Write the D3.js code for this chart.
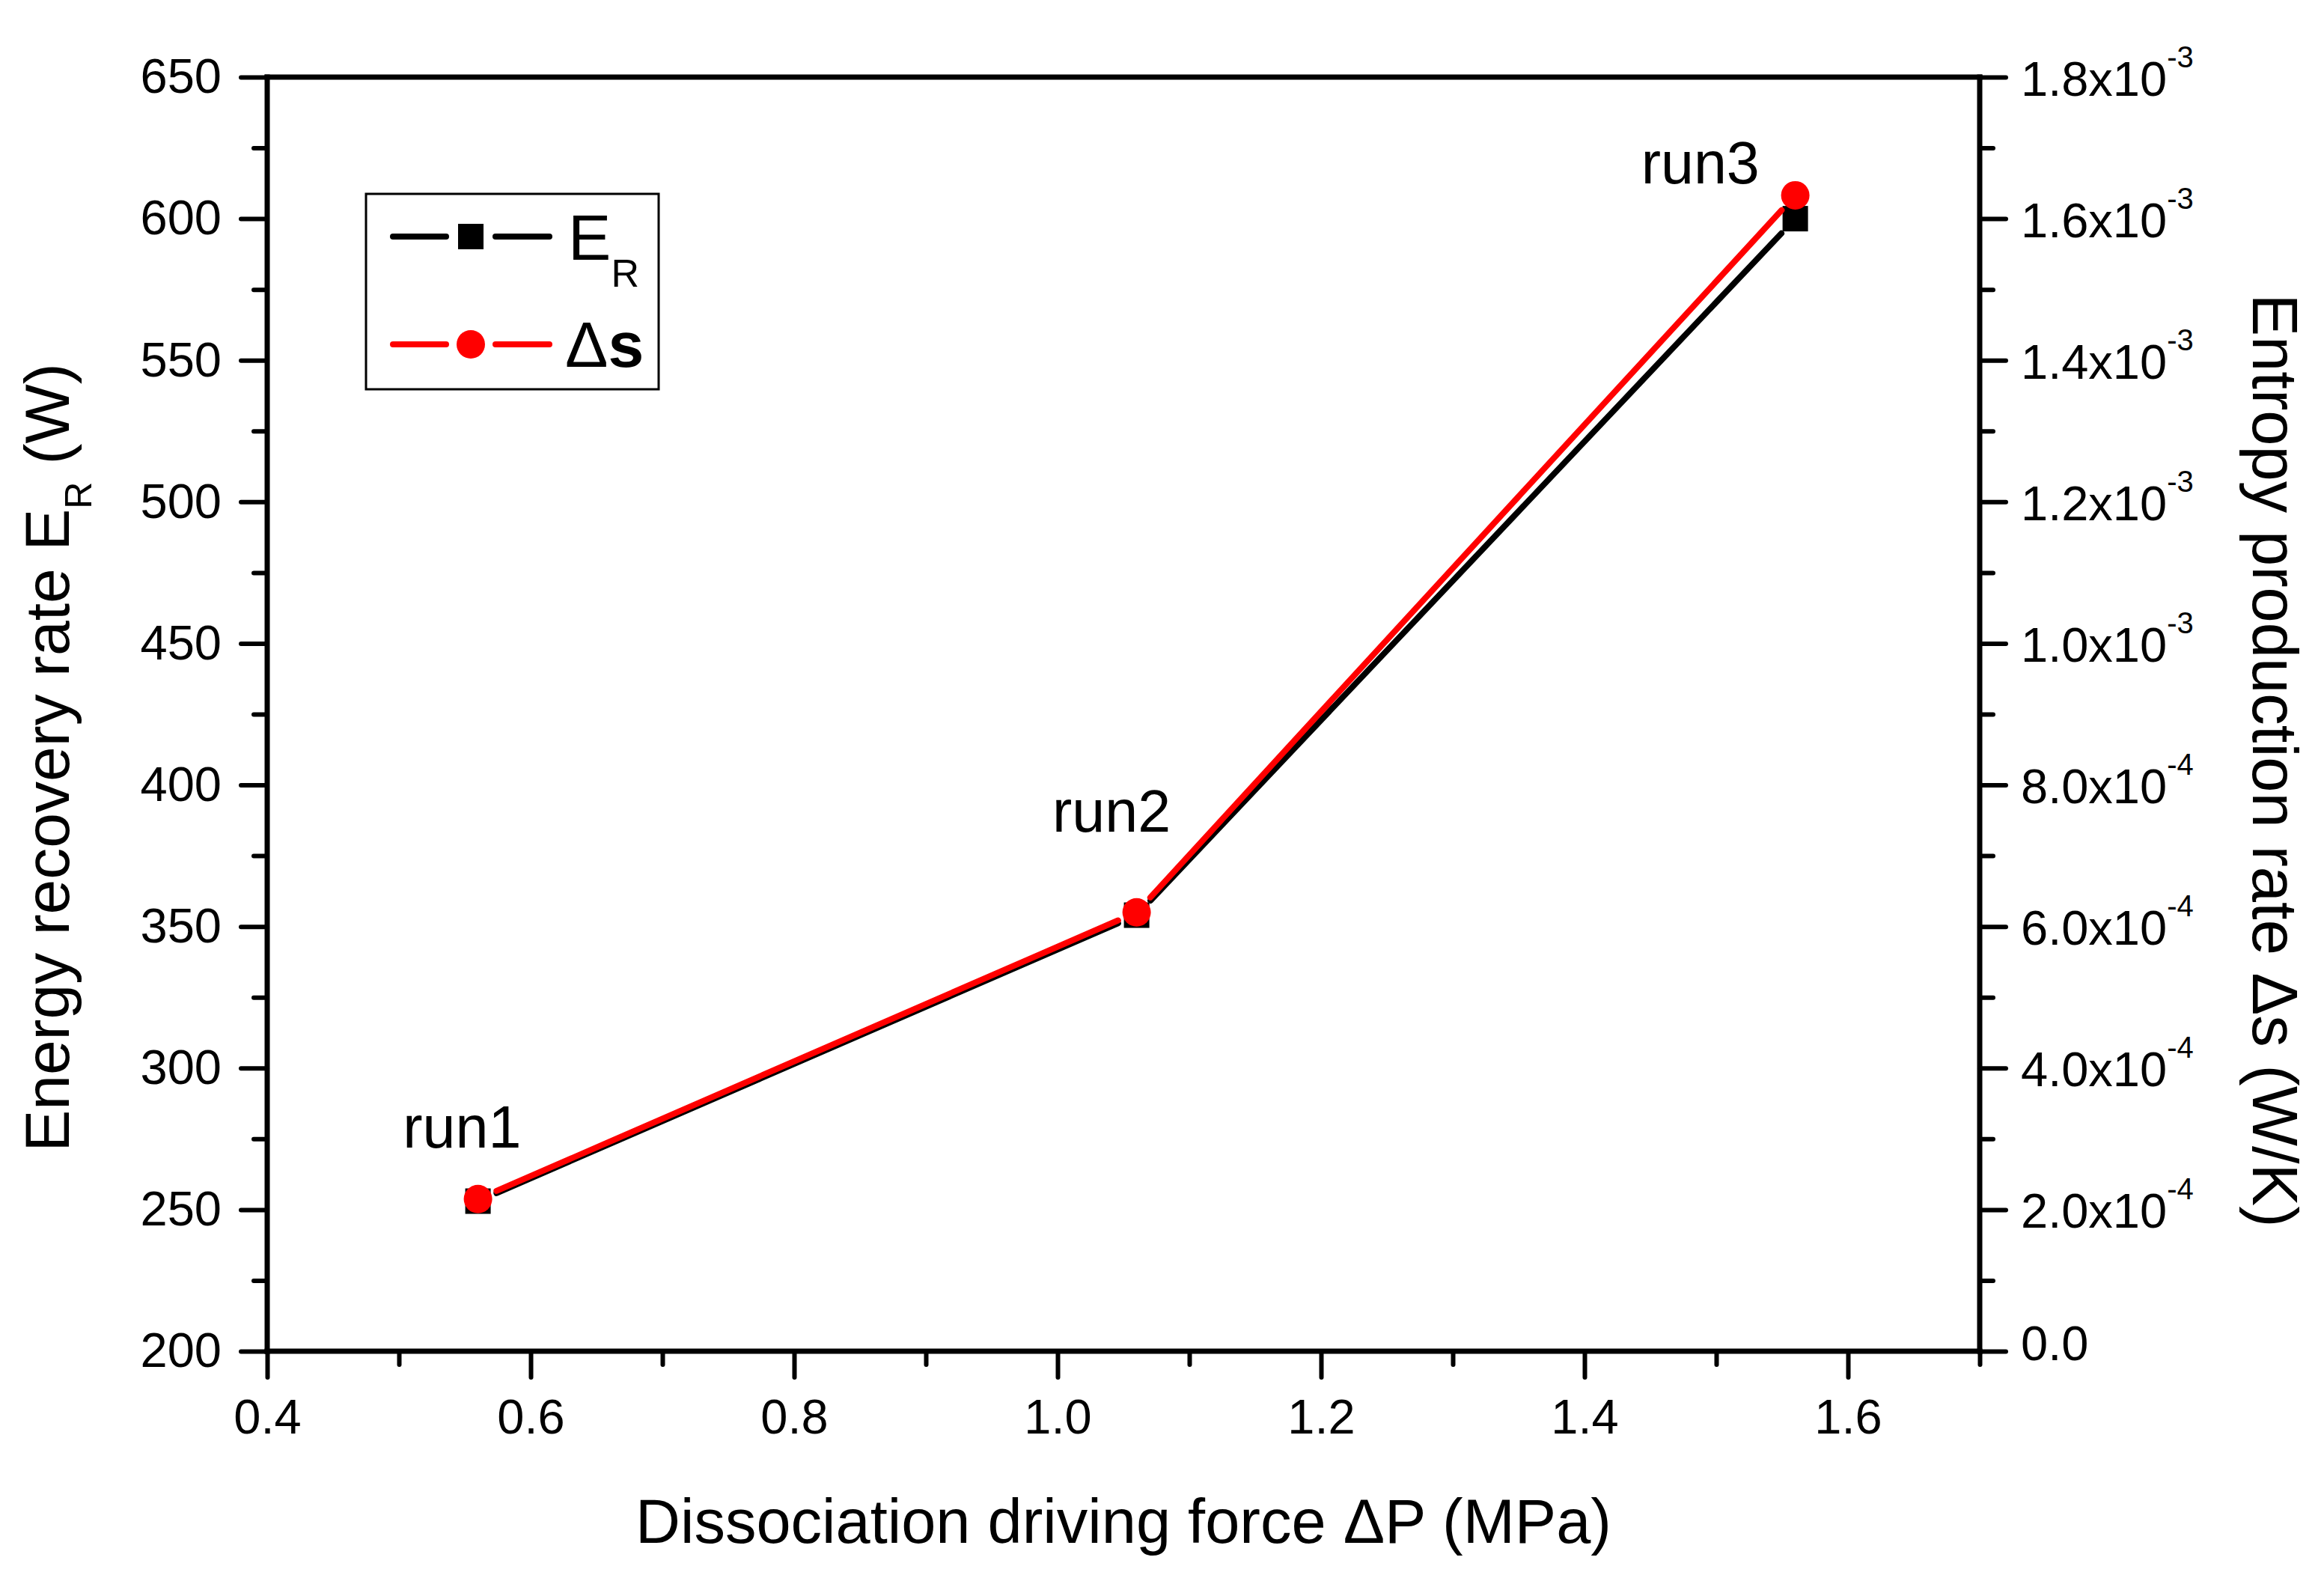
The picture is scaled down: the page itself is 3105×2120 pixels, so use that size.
<!DOCTYPE html>
<html>
<head>
<meta charset="utf-8">
<script src="https://cdn.jsdelivr.net/npm/d3@7"></script>
<style>
  body { margin: 0; background: #fff; }
  svg { display: block; }
  text { font-family: Arial, "Liberation Sans", sans-serif; fill: #000; }
</style>
</head>
<body>
<svg id="chart" width="3105" height="2120"></svg>
<script>

// ---- data ----
var pressure = [0.56, 1.06, 1.56];          // dissociation driving force, MPa
var energyRate = [253, 354, 600];            // E_R, W
var entropyRate = [2.15e-4, 6.2e-4, 1.633e-3]; // delta s, W/K
var runNames = ['run1', 'run2', 'run3'];
// where the run annotations sit, in data units (x in MPa, y in W)
var runLabelX = [0.503, 0.996, 1.443];
var runLabelY = [272, 383.5, 612.5];

var xMajor = [0.4, 0.6, 0.8, 1.0, 1.2, 1.4, 1.6];
var xMinor = [0.5, 0.7, 0.9, 1.1, 1.3, 1.5, 1.7];
var leftMajor = [200, 250, 300, 350, 400, 450, 500, 550, 600, 650];
var leftMinor = [225, 275, 325, 375, 425, 475, 525, 575, 625];
var rightMajor = [0, 2e-4, 4e-4, 6e-4, 8e-4, 1.0e-3, 1.2e-3, 1.4e-3, 1.6e-3, 1.8e-3];
var rightMinor = [1e-4, 3e-4, 5e-4, 7e-4, 9e-4, 1.1e-3, 1.3e-3, 1.5e-3, 1.7e-3];

var margin = { left: 357, right: 460, top: 103, bottom: 315 };
var W = 3105, H = 2120;

var svg = d3.select('#chart');

var x = d3.scaleLinear().domain([0.4, 1.7]).range([margin.left, W - margin.right]);
var yL = d3.scaleLinear().domain([200, 650]).range([H - margin.bottom, margin.top]);
var yR = d3.scaleLinear().domain([0, 1.8e-3]).range([H - margin.bottom, margin.top]);

var x0 = x.range()[0], x1 = x.range()[1];
var yb = yL.range()[0], yt = yL.range()[1];

var TICK_FONT = 65;
var AXIS_W = 7, TICK_W = 6, LINE_W = 8;

/* ======================================
 * axes: majors with labels, minors without
 */
function styleAxis(g) {
  g.select('.domain').remove();
  g.selectAll('.tick line')
    .attr('stroke', '#000')
    .attr('stroke-width', TICK_W)
    .attr('stroke-linecap', 'round');
  g.selectAll('.tick text')
    .attr('font-size', TICK_FONT)
    .attr('font-family', 'Arial, "Liberation Sans", sans-serif')
    .attr('fill', '#000');
}

// bottom
svg.append('g')
  .attr('transform', 'translate(0,' + yb + ')')
  .call(d3.axisBottom(x).tickValues(xMajor).tickSize(35).tickPadding(29)
    .tickFormat(d3.format('.1f')))
  .call(styleAxis);
svg.append('g')
  .attr('transform', 'translate(0,' + yb + ')')
  .call(d3.axisBottom(x).tickValues(xMinor).tickSize(18).tickFormat(''))
  .call(styleAxis);

// left
svg.append('g')
  .attr('transform', 'translate(' + x0 + ',0)')
  .call(d3.axisLeft(yL).tickValues(leftMajor).tickSize(35).tickPadding(26)
    .tickFormat(d3.format('d')))
  .call(styleAxis);
svg.append('g')
  .attr('transform', 'translate(' + x0 + ',0)')
  .call(d3.axisLeft(yL).tickValues(leftMinor).tickSize(18).tickFormat(''))
  .call(styleAxis);

// right
var rightAxis = svg.append('g')
  .attr('transform', 'translate(' + x1 + ',0)')
  .call(d3.axisRight(yR).tickValues(rightMajor).tickSize(35).tickPadding(20))
  .call(styleAxis);
svg.append('g')
  .attr('transform', 'translate(' + x1 + ',0)')
  .call(d3.axisRight(yR).tickValues(rightMinor).tickSize(18).tickFormat(''))
  .call(styleAxis);

// right labels as mantissa x 10^exp
rightAxis.selectAll('.tick text').each(function(d) {
  var t = d3.select(this).text('');
  if (d === 0) {
    t.attr('dy', 11).text('0.0');
    return;
  }
  var e = Math.floor(Math.log10(d) + 1e-9);
  var m = d / Math.pow(10, e);
  t.attr('dy', 24);
  t.append('tspan').text(m.toFixed(1) + 'x10');
  t.append('tspan').attr('font-size', 40).attr('dy', -38).text(String(e));
});

// frame
var frame = svg.append('g')
  .attr('stroke', '#000')
  .attr('stroke-width', AXIS_W)
  .attr('stroke-linecap', 'square');
frame.append('line').attr('x1', x0).attr('x2', x1).attr('y1', yb).attr('y2', yb);
frame.append('line').attr('x1', x0).attr('x2', x1).attr('y1', yt).attr('y2', yt);
frame.append('line').attr('x1', x0).attr('x2', x0).attr('y1', yt).attr('y2', yb);
frame.append('line').attr('x1', x1).attr('x2', x1).attr('y1', yt).attr('y2', yb);

/* ======================================
 * series: line segments stop short of the symbols
 */
var GAP = 27;

function drawSeries(yScale, values, color) {
  var pts = pressure.map(function(p, i) { return [x(p), yScale(values[i])]; });
  var segs = d3.pairs(pts).map(function(pr) {
    var dx = pr[1][0] - pr[0][0], dy = pr[1][1] - pr[0][1];
    var len = Math.sqrt(dx * dx + dy * dy);
    var ux = dx / len, uy = dy / len;
    return [pr[0][0] + ux * GAP, pr[0][1] + uy * GAP,
            pr[1][0] - ux * GAP, pr[1][1] - uy * GAP];
  });
  var g = svg.append('g');
  g.selectAll('line').data(segs).enter().append('line')
    .attr('x1', function(s) { return s[0]; })
    .attr('y1', function(s) { return s[1]; })
    .attr('x2', function(s) { return s[2]; })
    .attr('y2', function(s) { return s[3]; })
    .attr('stroke', color)
    .attr('stroke-width', LINE_W)
    .attr('stroke-linecap', 'round');
  return { g: g, pts: pts };
}

var er = drawSeries(yL, energyRate, '#000');
er.g.selectAll('rect').data(er.pts).enter().append('rect')
  .attr('x', function(p) { return p[0] - 17; })
  .attr('y', function(p) { return p[1] - 17; })
  .attr('width', 34).attr('height', 34)
  .attr('fill', '#000');

var ds = drawSeries(yR, entropyRate, '#ff0000');
ds.g.selectAll('circle').data(ds.pts).enter().append('circle')
  .attr('cx', function(p) { return p[0]; })
  .attr('cy', function(p) { return p[1]; })
  .attr('r', 19)
  .attr('fill', '#ff0000');

// run annotations
svg.append('g').selectAll('text').data(runNames).enter().append('text')
  .attr('x', function(d, i) { return x(runLabelX[i]); })
  .attr('y', function(d, i) { return yL(runLabelY[i]); })
  .attr('font-size', 79)
  .text(function(d) { return d; });

/* ======================================
 * axis titles
 */
svg.append('text')
  .attr('x', (x0 + x1) / 2)
  .attr('y', 2061)
  .attr('text-anchor', 'middle')
  .attr('font-size', 83)
  .text('Dissociation driving force \u0394P (MPa)');

var lt = svg.append('text')
  .attr('transform', 'translate(92,1012) rotate(-90)')
  .attr('text-anchor', 'middle')
  .attr('font-size', 84);
lt.append('tspan').text('Energy recovery rate E');
lt.append('tspan').attr('font-size', 50).attr('dy', 30).text('R');
lt.append('tspan').attr('dy', -30).text(' (W)');

svg.append('text')
  .attr('transform', 'translate(3010,1016) rotate(90)')
  .attr('text-anchor', 'middle')
  .attr('font-size', 85)
  .text('Entropy production rate \u0394s (W/K)');

/* ======================================
 * legend
 */
var legend = svg.append('g').attr('transform', 'translate(489,259)');
legend.append('rect')
  .attr('width', 391).attr('height', 261)
  .attr('fill', '#fff').attr('stroke', '#000').attr('stroke-width', 3);

var legendItems = [
  { color: '#000', symbol: 'square', y: 57 },
  { color: '#ff0000', symbol: 'circle', y: 201 }
];
legendItems.forEach(function(it) {
  var row = legend.append('g').attr('transform', 'translate(0,' + it.y + ')');
  [[36, 107], [173, 245]].forEach(function(s) {
    row.append('line').attr('x1', s[0]).attr('x2', s[1])
      .attr('stroke', it.color).attr('stroke-width', LINE_W).attr('stroke-linecap', 'round');
  });
  if (it.symbol === 'square') {
    row.append('rect').attr('x', 123).attr('y', -17).attr('width', 34).attr('height', 34)
      .attr('fill', it.color);
  } else {
    row.append('circle').attr('cx', 140).attr('r', 19).attr('fill', it.color);
  }
});

var le1 = legend.append('text').attr('x', 270).attr('y', 88).attr('font-size', 86);
le1.append('tspan').text('E');
le1.append('tspan').attr('font-size', 52).attr('dy', 36).text('R');

var le2 = legend.append('text').attr('x', 266).attr('y', 231).attr('font-size', 86);
le2.append('tspan').text('\u0394');
le2.append('tspan').attr('font-weight', 'bold').text('s');

</script>
</body>
</html>
